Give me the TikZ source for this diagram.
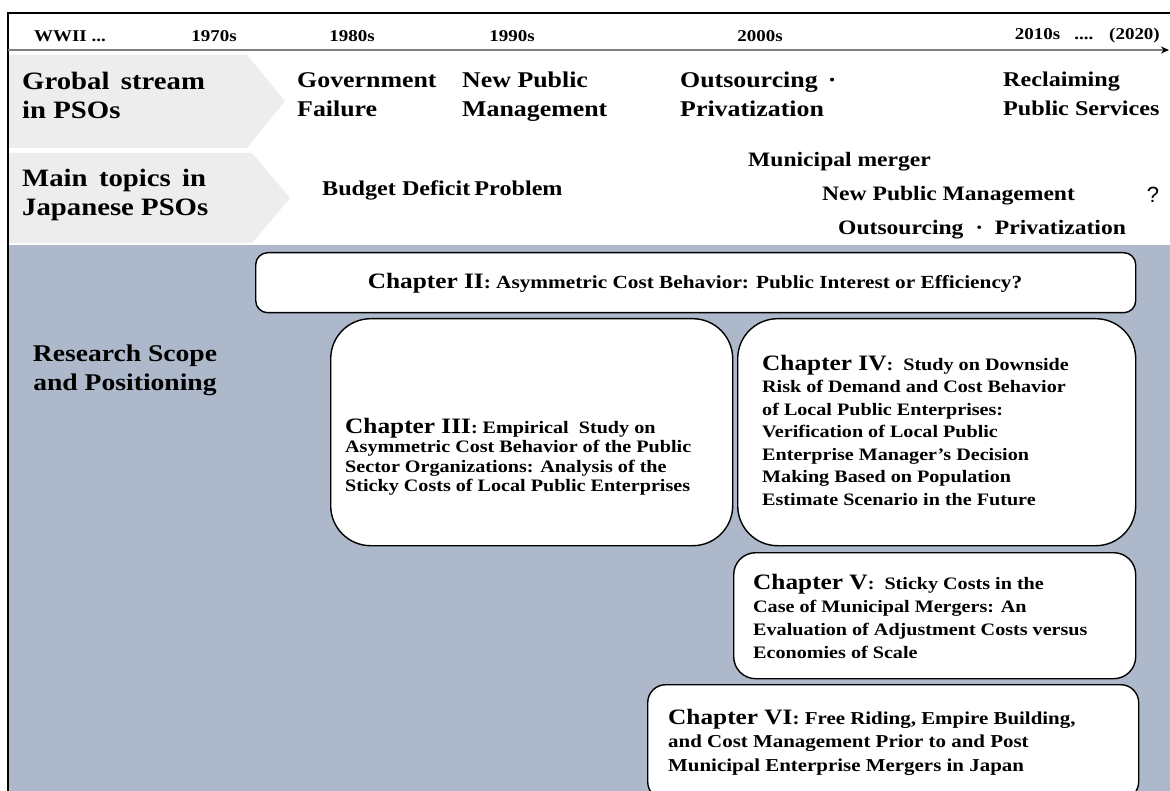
\documentclass[tikz,border=0pt]{standalone}
\usepackage{fontspec}
\setmainfont{Liberation Serif}[FakeStretch=1.15]
\newfontfamily\qfont{Liberation Sans}
\usetikzlibrary{arrows.meta}
\definecolor{chev}{RGB}{237,237,237}
\definecolor{scope}{RGB}{173,185,202}
\definecolor{axisgray}{RGB}{128,128,128}
\newcommand\chbig[1]{{\fontsize{22}{22}\selectfont #1}}
\begin{document}
\begin{tikzpicture}[x=1pt,y=-1pt,
  yearlbl/.style={font=\bfseries\fontsize{16.5}{18}\selectfont, inner sep=0},
  head/.style={font=\bfseries\fontsize{25}{29}\selectfont, align=left, anchor=north west, inner sep=0},
  topic/.style={font=\bfseries\fontsize{22.5}{29}\selectfont, align=left, anchor=north west, inner sep=0},
  jtopic/.style={font=\bfseries\fontsize{20.5}{22}\selectfont, anchor=north west, inner sep=0},
  chbox/.style={draw=black, line width=1.4pt, fill=white, anchor=north west, inner sep=0},
  chtext/.style={font=\bfseries\fontsize{17.5}{22.5}\selectfont, align=left, anchor=north west, inner sep=0},
  band/.style={fill=chev, draw=none}]
\clip (0,0) rectangle (1170,791);
\fill[white] (0,0) rectangle (1170,791);
% scope region
\fill[scope] (8,245) rectangle (1170,791);
% chevrons
\fill[band] (8,55) -- (247,55) -- (285,101) -- (247,148) -- (8,148) -- cycle;
\fill[band] (8,153) -- (252,153) -- (290,198) -- (252,243) -- (8,243) -- cycle;
% frame
\draw[line width=1.4pt] (8,791) -- (8,13) -- (1170,13);
% axis
\coordinate (axs) at (8,50);
\coordinate (axe) at (1169,50);
\draw[axisgray, line width=1.5pt, -{Stealth[black,length=8pt,width=7pt]}] (axs) -- (axe);
% years
\node[yearlbl] (y0) at (70,36) {WWII ...};
\node[yearlbl] (y1) at (214,36) {1970s};
\node[yearlbl] (y2) at (352,36) {1980s};
\node[yearlbl] (y3) at (512,36) {1990s};
\node[yearlbl] (y4) at (760,36) {2000s};
\node[yearlbl, anchor=east] (y5) at (1160,36) {2010s \ \ .... \ \ (2020)};
% row headers
\node[head] (h1) at (22,72) {Grobal\, stream\\in PSOs};
\node[head] (h2) at (22,169) {Main\, topics\, in\\Japanese PSOs};
% global stream
\node[topic] (g1) at (297,72) {Government\\Failure};
\node[topic] (g2) at (462,72) {New Public\\Management};
\node[topic] (g3) at (680,72) {Outsourcing \,·\\Privatization};
\node[topic, font=\bfseries\fontsize{21}{29}\selectfont] (g4) at (1003,72) {Reclaiming\\Public Services};
% japanese topics
\node[jtopic, font=\bfseries\fontsize{21}{22}\selectfont] (j1) at (322,181) {Budget Deficit\hspace{-2pt} Problem};
\node[jtopic] (j2) at (748,152) {Municipal merger};
\node[jtopic] (j3) at (822,186) {New Public Management};
\node[jtopic] (j4) at (838,220) {Outsourcing \ · \ Privatization};
\node[inner sep=0, font=\qfont\fontsize{22}{22}\selectfont] (q) at (1153,195) {?};
% research scope
\node[font=\bfseries\fontsize{24}{29}\selectfont, align=center, anchor=north, inner sep=0] (rs) at (125,345) {Research Scope\\and Positioning};
% chapter boxes
\node[chbox, rounded corners=12pt, minimum width=880pt, minimum height=60pt] (c2) at (255,252) {};
\node[chbox, rounded corners=40pt, minimum width=402pt, minimum height=227pt] (c3) at (330,318) {};
\node[chbox, rounded corners=40pt, minimum width=398pt, minimum height=227pt] (c4) at (737,318) {};
\node[chbox, rounded corners=22pt, minimum width=402pt, minimum height=126pt] (c5) at (733,552) {};
\node[chbox, rounded corners=18pt, minimum width=491pt, minimum height=115pt] (c6) at (647,684) {};
% chapter texts
\node[chtext, anchor=north, font=\bfseries\fontsize{18.5}{22}\selectfont] (t2) at (695,273) {\chbig{Chapter II}: Asymmetric Cost Behavior: Public Interest or Efficiency?};
\node[chtext, font=\bfseries\fontsize{17.5}{19.5}\selectfont] (t3) at (345,418) {\chbig{Chapter III}: Empirical \ Study on\\Asymmetric Cost Behavior of the Public\\Sector Organizations: Analysis of the\\Sticky Costs of Local Public Enterprises};
\node[chtext] (t4) at (762,355) {\chbig{Chapter IV}: \ Study on Downside\\Risk of Demand and Cost Behavior\\of Local Public Enterprises:\\Verification of Local Public\\Enterprise Manager's Decision\\Making Based on Population\\Estimate Scenario in the Future};
\node[chtext, font=\bfseries\fontsize{17.5}{23}\selectfont] (t5) at (753,574) {\chbig{Chapter V}: \ Sticky Costs in the\\Case of Municipal Mergers: An\\Evaluation of Adjustment Costs versus\\Economies of Scale};
\node[chtext, font=\bfseries\fontsize{18.2}{23.5}\selectfont] (t6) at (668,709) {\chbig{Chapter VI}: Free Riding, Empire Building,\\and Cost Management Prior to and Post\\Municipal Enterprise Mergers in Japan};
\end{tikzpicture}
\end{document}
